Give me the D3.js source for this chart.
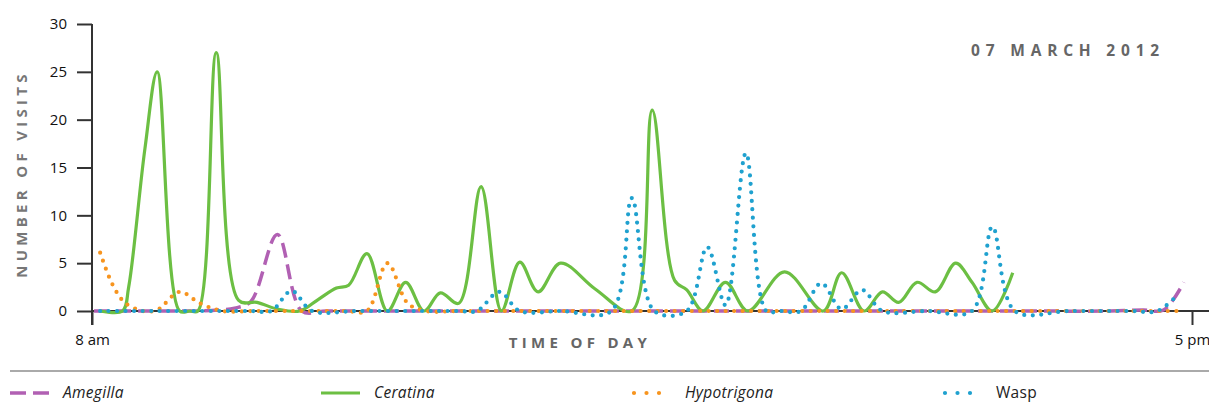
<!DOCTYPE html>
<html>
<head>
<meta charset="utf-8">
<script src="https://cdn.jsdelivr.net/npm/d3@7"></script>
<style>
  body { margin: 0; background: #fff; }
  text { font-family: "Open Sans", sans-serif; }
</style>
</head>
<body>
<svg id="chart" width="1209" height="403"></svg>
<script>
// [minutes after 8 am, number of visits]
var amegilla = [[1,0],[25,0],[50,0],[62,0.1],[70,0.3],[78,1],[91,8],[103,0],[115,0],[150,0],[200,0],[250,0],
  [300,0],[350,0],[400,0],[450,0],[500,0],[516,0.1],[526,0.1],[536,3]];

var ceratina = [[4,0],[15,0],[18,2.5],[26,17],[32,25],[43,0],[48,0],[52,0],[61,27],[72,1.1],[81,0.9],[91,0.2],[102,0],
  [111,1.2],[120,2.4],[126,2.7],[135,6],[145,0],[154,3],[163,0],[171,1.9],[180,0.8],[191,13],[201,0],
  [210,5.1],[219,2],[230,5],[247,2.3],[265,0],[275,21],[286,3.2],[292,2.2],[300,0],[311,3],[322,0],
  [340,4.1],[359,0],[368,4],[379,0],[388,2],[396,0.9],[405,3],[414,2],[424,5],[432,3],[442,0],[452,4]];

var hypotrigona = [[4,6.1],[10,2.8],[16,0.9],[25,0],[32,0.1],[43,2],[53,0.8],[64,0],[80,0],[100,0],
  [115,0],[125,0],[135,0],[145,5],[155,0.8],[164,0],[180,0],[210,0],[240,0],[270,0],[300,0],[330,0],
  [360,0],[390,0],[420,0],[450,0],[480,0],[510,0],[534,0]];

var wasp = [[4,0],[30,0],[60,0],[78,0],[88,0],[98,2.1],[108,0],[130,0],[160,0],[180,0],[189,0],[200,2],
  [210,0],[230,0],[255,0],[265,11.8],[276,0],[292,0],[302,6.7],[311,0.6],[321,16.5],[331,0],[338,0],
  [348,0],[358,2.9],[368,0.2],[378,2.2],[388,0],[410,0],[432,0],[442,8.8],[453,0],[480,0],[510,0],
  [523,0],[533,1.7]];

var yTicks = [0, 5, 10, 15, 20, 25, 30];
var xTickLabels = ["8 am", "5 pm"];
var dateLabel = "07 MARCH 2012";

var series = [
  {name: "Amegilla", values: amegilla, color: "#b160b3", italic: true, style: "dash"},
  {name: "Ceratina", values: ceratina, color: "#6cbf43", italic: true, style: "solid"},
  {name: "Hypotrigona", values: hypotrigona, color: "#f7941e", italic: true, style: "dot"},
  {name: "Wasp", values: wasp, color: "#1fa1cf", italic: false, style: "dot"}
];

var svg = d3.select("#chart"),
  WIDTH = 1209,
  start = new Date(2012, 2, 7, 8, 0),
  end = new Date(2012, 2, 7, 17, 0),
  xScale = d3.scaleTime().domain([start, end]).range([92, 1192]),
  yScale = d3.scaleLinear().domain([0, 30]).range([311, 24]);

function toDate(m) { return new Date(start.getTime() + m * 60000); }

// y axis
var yAxis = d3.axisLeft(yScale).tickValues(yTicks).tickSize(15).tickPadding(10);
var gy = svg.append("g")
  .attr("transform", "translate(92,0)")
  .call(yAxis);
gy.select(".domain").remove();
gy.selectAll(".tick line").attr("stroke", "#333").attr("stroke-width", 2);
gy.selectAll(".tick text").style("font-size", "15px").attr("fill", "#111");
svg.append("line")
  .attr("x1", 92).attr("x2", 92)
  .attr("y1", yScale(30)).attr("y2", yScale(0) + 14)
  .attr("stroke", "#333").attr("stroke-width", 2);

// x axis
var xAxis = d3.axisBottom(xScale).tickValues([start, end]).tickSize(14).tickPadding(9)
  .tickFormat(function (d, i) { return xTickLabels[i]; });
var gx = svg.append("g")
  .attr("transform", "translate(0," + yScale(0) + ")")
  .call(xAxis);
gx.select(".domain").remove();
gx.selectAll(".tick line").attr("stroke", "#333").attr("stroke-width", 2);
gx.selectAll(".tick text").style("font-size", "15px").attr("fill", "#111");
svg.append("line")
  .attr("x1", 92).attr("x2", WIDTH)
  .attr("y1", yScale(0)).attr("y2", yScale(0))
  .attr("stroke", "#333").attr("stroke-width", 2);

// titles
svg.append("text")
  .attr("transform", "translate(27,174) rotate(-90)")
  .style("text-anchor", "middle")
  .style("font-weight", "bold")
  .style("font-size", "15px")
  .style("letter-spacing", "4.3px")
  .attr("fill", "#777")
  .text("NUMBER OF VISITS");

svg.append("text")
  .attr("x", 580).attr("y", 348)
  .style("text-anchor", "middle")
  .style("font-weight", "bold")
  .style("font-size", "15px")
  .style("letter-spacing", "4.3px")
  .attr("fill", "#666")
  .text("TIME OF DAY");

svg.append("text")
  .attr("x", 1165).attr("y", 56)
  .style("text-anchor", "end")
  .style("font-weight", "bold")
  .style("font-size", "15.5px")
  .style("letter-spacing", "5.8px")
  .attr("fill", "#666")
  .text(dateLabel);

// lines
var line = d3.line()
  .curve(d3.curveCatmullRom.alpha(0.5))
  .x(function (d) { return xScale(toDate(d[0])); })
  .y(function (d) { return yScale(d[1]); });

function styleStroke(sel, s, legend) {
  sel.attr("fill", "none").attr("stroke", s.color);
  if (s.style === "solid") {
    sel.attr("stroke-width", 3.2);
  } else if (s.style === "dash") {
    sel.attr("stroke-width", 3.5).attr("stroke-dasharray", legend ? "16,7" : "15,7");
  } else {
    sel.attr("stroke-width", 4.2).attr("stroke-linecap", "round")
      .attr("stroke-dasharray", legend ? "0,12.5" : "0,8.5");
  }
}

series.forEach(function (s) {
  svg.append("path")
    .datum(s.values)
    .attr("d", line)
    .call(styleStroke, s, false);
});

// separator and legend
svg.append("line")
  .attr("x1", 10).attr("x2", WIDTH)
  .attr("y1", 371).attr("y2", 371)
  .attr("stroke", "#aaa").attr("stroke-width", 2);

series.forEach(function (s, i) {
  var lx = 10 + i * 311;
  svg.append("line")
    .attr("x1", s.style === "dot" ? lx + 2 : lx).attr("x2", lx + 39)
    .attr("y1", 393).attr("y2", 393)
    .call(styleStroke, s, true);
  svg.append("text")
    .attr("x", lx + 53).attr("y", 398)
    .style("font-size", "15.5px")
    .style("font-style", s.italic ? "italic" : "normal")
    .style("letter-spacing", "0.3px")
    .attr("fill", "#222")
    .text(s.name);
});
</script>
</body>
</html>
